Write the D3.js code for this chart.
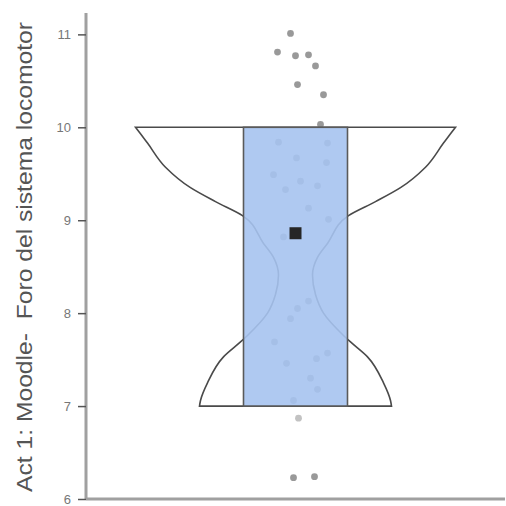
<!DOCTYPE html>
<html>
<head>
<meta charset="utf-8">
<script src="https://cdn.jsdelivr.net/npm/d3@7"></script>
<style>
  body { margin: 0; background: #fff; }
  svg { display: block; }
</style>
</head>
<body>
<svg id="chart" width="506" height="506"></svg>
<script>
const categories = ["Act 1"]
const yLabel = "Act 1: Moodle-  Foro del sistema locomotor"
const yTicks = [6, 7, 8, 9, 10, 11]

// box stats
const q1 = 7
const q3 = 10
const meanValue = 8.86

// violin profile (value, relative density)
const violinValues = [7.0, 7.06, 7.25, 7.53, 7.69, 7.76, 8.0, 8.2, 8.41, 8.6, 8.75, 9.05, 9.2, 9.35, 9.57, 9.83, 9.93, 10.0]
const violinDensity = [96, 95, 88, 72, 55, 48, 28, 20, 17, 22, 32, 53, 80, 105, 130, 148, 155, 160]

// jittered points: horizontal jitter and value
const pointJitter = [-5, -18, 0, 13, 20, 2, 28, 25, -17, 32, 1, 31, -22, 5, -10, 22, 13, 33, -12, 13, 2, -5, -21, 32, 21, -9, 15, 22, -2, 3, -2, 19]
const pointValues = [11.01, 10.81, 10.77, 10.78, 10.66, 10.46, 10.35, 10.03, 9.84, 9.83, 9.67, 9.62, 9.49, 9.42, 9.33, 9.37, 9.13, 9.01, 8.82, 8.13, 8.05, 7.94, 7.69, 7.57, 7.51, 7.46, 7.30, 7.18, 7.06, 6.87, 6.23, 6.24]

const svg = d3.select("#chart")
const left = 86
const right = 505
const bottom = 499

const x = d3.scalePoint()
    .domain(categories)
    .range([left, right])
    .padding(0.5)

const y = d3.scaleLinear()
    .domain([6, 11.23])
    .range([bottom, 13])

const w = d3.scaleLinear()
    .domain([0, d3.max(violinDensity)])
    .range([0, 160])

const cx = x(categories[0])

// violin
const violinData = violinValues.map((v, i) => ({v: v, d: violinDensity[i]}))
const area = d3.area()
    .y(d => y(d.v))
    .x0(d => cx - w(d.d))
    .x1(d => cx + w(d.d))
    .curve(d3.curveMonotoneY)

svg.append("path")
    .datum(violinData)
    .attr("d", area)
    .attr("fill", "#fff")
    .attr("stroke", "#4a4a4a")
    .attr("stroke-width", 1.6)

// points
svg.append("g")
    .selectAll("circle")
    .data(pointValues)
    .join("circle")
    .attr("cx", (d, i) => cx + pointJitter[i])
    .attr("cy", d => y(d))
    .attr("r", 3.4)
    .attr("fill", "#777")
    .attr("opacity", d => d === 6.87 ? 0.45 : 0.75)

// box
svg.append("rect")
    .attr("x", cx - 52)
    .attr("width", 104)
    .attr("y", y(q3))
    .attr("height", y(q1) - y(q3))
    .attr("fill", "#a6c3ef")
    .attr("fill-opacity", 0.9)
    .attr("stroke", "#5a5a5a")
    .attr("stroke-width", 1.6)

// mean
svg.append("rect")
    .attr("x", cx - 6)
    .attr("y", y(meanValue) - 6)
    .attr("width", 12)
    .attr("height", 12)
    .attr("fill", "#262626")

// y axis
const yAxis = svg.append("g")
    .attr("transform", `translate(${left},0)`)
    .call(d3.axisLeft(y).tickValues(yTicks).tickSize(8).tickPadding(7).tickFormat(d3.format("d")))

yAxis.select(".domain")
    .attr("stroke", "#a0a0a0")
    .attr("stroke-width", 3)
    .attr("d", `M0,${y(6) + 1}V13`)

yAxis.selectAll(".tick line")
    .attr("stroke", "#555")
    .attr("stroke-width", 1.5)

yAxis.selectAll(".tick text")
    .attr("fill", "#777")
    .attr("font-family", "Liberation Sans, Arial, sans-serif")
    .attr("font-size", 13)

// x axis line
svg.append("line")
    .attr("x1", left)
    .attr("x2", right)
    .attr("y1", bottom)
    .attr("y2", bottom)
    .attr("stroke", "#a0a0a0")
    .attr("stroke-width", 3)

// y label
svg.append("text")
    .text(yLabel)
    .attr("transform", `translate(32,${(492 + 22) / 2}) rotate(-90)`)
    .attr("text-anchor", "middle")
    .attr("font-family", "Liberation Sans, Arial, sans-serif")
    .attr("font-size", 22)
    .attr("textLength", 470)
    .attr("lengthAdjust", "spacingAndGlyphs")
    .attr("fill", "#555")
    .style("white-space", "pre")
</script>
</body>
</html>
